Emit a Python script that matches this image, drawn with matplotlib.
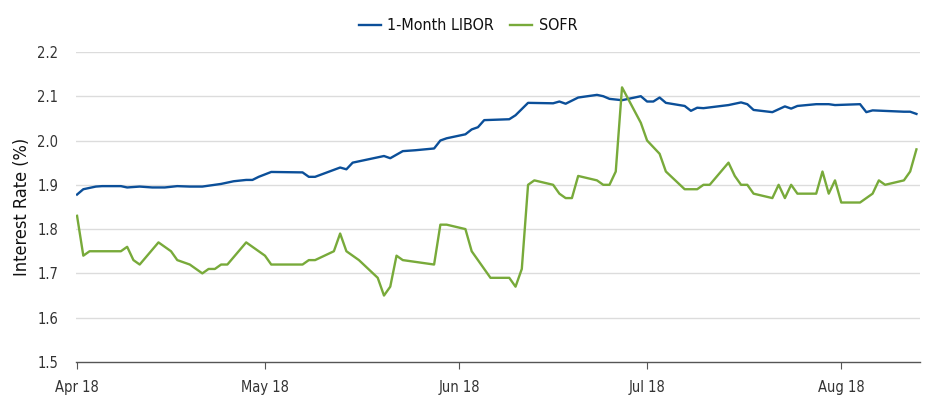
#Plots 1-Month LIBOR against SOFR, Apr-Aug 2018
import pandas as pd
import matplotlib
matplotlib.use("Agg")
import matplotlib.pyplot as plt

plt.rcParams['font.family'] = ['DejaVu Sans']
plt.rcParams['font.stretch'] = 'condensed'

#values, one entry per visible vertex
libor_dates = ["2018-04-02", "2018-04-03", "2018-04-05", "2018-04-06", "2018-04-09", "2018-04-10",
               "2018-04-12", "2018-04-14", "2018-04-16", "2018-04-18", "2018-04-20", "2018-04-22",
               "2018-04-24", "2018-04-25", "2018-04-27", "2018-04-29", "2018-04-30", "2018-05-01",
               "2018-05-03", "2018-05-08", "2018-05-09", "2018-05-10", "2018-05-14", "2018-05-15",
               "2018-05-16", "2018-05-17", "2018-05-21", "2018-05-22", "2018-05-24", "2018-05-26",
               "2018-05-29", "2018-05-30", "2018-05-31", "2018-06-03", "2018-06-04", "2018-06-05",
               "2018-06-06", "2018-06-10", "2018-06-11", "2018-06-13", "2018-06-17", "2018-06-18",
               "2018-06-19", "2018-06-21", "2018-06-24", "2018-06-25", "2018-06-26", "2018-06-28",
               "2018-07-01", "2018-07-02", "2018-07-03", "2018-07-04", "2018-07-05", "2018-07-08",
               "2018-07-09", "2018-07-10", "2018-07-11", "2018-07-15", "2018-07-17", "2018-07-18",
               "2018-07-19", "2018-07-22", "2018-07-24", "2018-07-25", "2018-07-26", "2018-07-29",
               "2018-07-31", "2018-08-01", "2018-08-05", "2018-08-06", "2018-08-07", "2018-08-12",
               "2018-08-13", "2018-08-14"]
libor_rates = [1.878, 1.890, 1.896, 1.897, 1.897, 1.894,
               1.896, 1.894, 1.894, 1.897, 1.896, 1.896,
               1.900, 1.902, 1.908, 1.911, 1.911, 1.918,
               1.929, 1.928, 1.918, 1.918, 1.939, 1.935,
               1.950, 1.953, 1.965, 1.960, 1.976, 1.978,
               1.982, 2.000, 2.005, 2.014, 2.025, 2.030,
               2.046, 2.048, 2.057, 2.085, 2.084, 2.088,
               2.083, 2.097, 2.103, 2.100, 2.094, 2.091,
               2.100, 2.088, 2.088, 2.097, 2.085, 2.078,
               2.067, 2.074, 2.073, 2.080, 2.086, 2.082,
               2.069, 2.064, 2.077, 2.072, 2.078, 2.082,
               2.082, 2.080, 2.082, 2.064, 2.068, 2.065,
               2.065, 2.060]

sofr_dates = ["2018-04-02", "2018-04-03", "2018-04-04", "2018-04-09", "2018-04-10", "2018-04-11",
              "2018-04-12", "2018-04-15", "2018-04-17", "2018-04-18", "2018-04-20", "2018-04-22",
              "2018-04-23", "2018-04-24", "2018-04-25", "2018-04-26", "2018-04-29", "2018-05-02",
              "2018-05-03", "2018-05-08", "2018-05-09", "2018-05-10", "2018-05-13", "2018-05-14",
              "2018-05-15", "2018-05-17", "2018-05-20", "2018-05-21", "2018-05-22", "2018-05-23",
              "2018-05-24", "2018-05-29", "2018-05-30", "2018-05-31", "2018-06-03", "2018-06-04",
              "2018-06-07", "2018-06-10", "2018-06-11", "2018-06-12", "2018-06-13", "2018-06-14",
              "2018-06-17", "2018-06-18", "2018-06-19", "2018-06-20", "2018-06-21", "2018-06-24",
              "2018-06-25", "2018-06-26", "2018-06-27", "2018-06-28", "2018-07-01", "2018-07-02",
              "2018-07-04", "2018-07-05", "2018-07-08", "2018-07-10", "2018-07-11", "2018-07-12",
              "2018-07-15", "2018-07-16", "2018-07-17", "2018-07-18", "2018-07-19", "2018-07-22",
              "2018-07-23", "2018-07-24", "2018-07-25", "2018-07-26", "2018-07-29", "2018-07-30",
              "2018-07-31", "2018-08-01", "2018-08-02", "2018-08-05", "2018-08-07", "2018-08-08",
              "2018-08-09", "2018-08-12", "2018-08-13", "2018-08-14"]
sofr_rates = [1.83, 1.74, 1.75, 1.75, 1.76, 1.73,
              1.72, 1.77, 1.75, 1.73, 1.72, 1.70,
              1.71, 1.71, 1.72, 1.72, 1.77, 1.74,
              1.72, 1.72, 1.73, 1.73, 1.75, 1.79,
              1.75, 1.73, 1.69, 1.65, 1.67, 1.74,
              1.73, 1.72, 1.81, 1.81, 1.80, 1.75,
              1.69, 1.69, 1.67, 1.71, 1.90, 1.91,
              1.90, 1.88, 1.87, 1.87, 1.92, 1.91,
              1.90, 1.90, 1.93, 2.12, 2.04, 2.00,
              1.97, 1.93, 1.89, 1.89, 1.90, 1.90,
              1.95, 1.92, 1.90, 1.90, 1.88, 1.87,
              1.90, 1.87, 1.90, 1.88, 1.88, 1.93,
              1.88, 1.91, 1.86, 1.86, 1.88, 1.91,
              1.90, 1.91, 1.93, 1.98]

tick_dates = ["2018-04-02", "2018-05-02", "2018-06-02", "2018-07-02", "2018-08-02"]
tick_labels = ["Apr 18", "May 18", "Jun 18", "Jul 18", "Aug 18"]
y_ticks = [1.5, 1.6, 1.7, 1.8, 1.9, 2.0, 2.1, 2.2]

libor_color = "#0b4f99"
sofr_color = "#78aa3a"
text_color = "#333333"

fig = plt.figure(figsize=(9.36, 4.12), dpi=100)
ax = fig.add_axes([0.0812, 0.1214, 0.9018, 0.7526])

ax.plot(pd.to_datetime(libor_dates), libor_rates, color=libor_color, lw=1.7, label="1-Month LIBOR")
ax.plot(pd.to_datetime(sofr_dates), sofr_rates, color=sofr_color, lw=1.7, label="SOFR")

ax.set_ylim(1.5, 2.2)
ax.set_xlim(pd.Timestamp("2018-04-01 20:00"), pd.Timestamp("2018-08-14 14:00"))
ax.set_yticks(y_ticks)
ax.set_yticklabels(["%.1f" % v for v in y_ticks])
ax.set_xticks(pd.to_datetime(tick_dates))
ax.set_xticklabels(tick_labels)

#horizontal gridlines only, none on the baseline
for v in y_ticks[1:]:
    ax.axhline(v, color="#dcdcdc", lw=1, zorder=0)

for side in ["top", "right", "left"]:
    ax.spines[side].set_visible(False)
ax.spines["bottom"].set_color("#555555")
ax.spines["bottom"].set_linewidth(1)

ax.tick_params(axis="y", length=0, pad=13, labelsize=10.5, labelcolor=text_color)
ax.tick_params(axis="x", length=5, color="#555555", pad=8, labelsize=10.5, labelcolor=text_color)

ax.set_ylabel("Interest Rate (%)", fontsize=13, color="#111111", labelpad=4)

fig.legend(loc="center", bbox_to_anchor=(0.5, 0.937), ncol=2, frameon=False,
           fontsize=11.5, handlelength=1.4, handletextpad=0.4, columnspacing=1.0,
           labelcolor="#111111")

plt.savefig("out.png", dpi=100)
